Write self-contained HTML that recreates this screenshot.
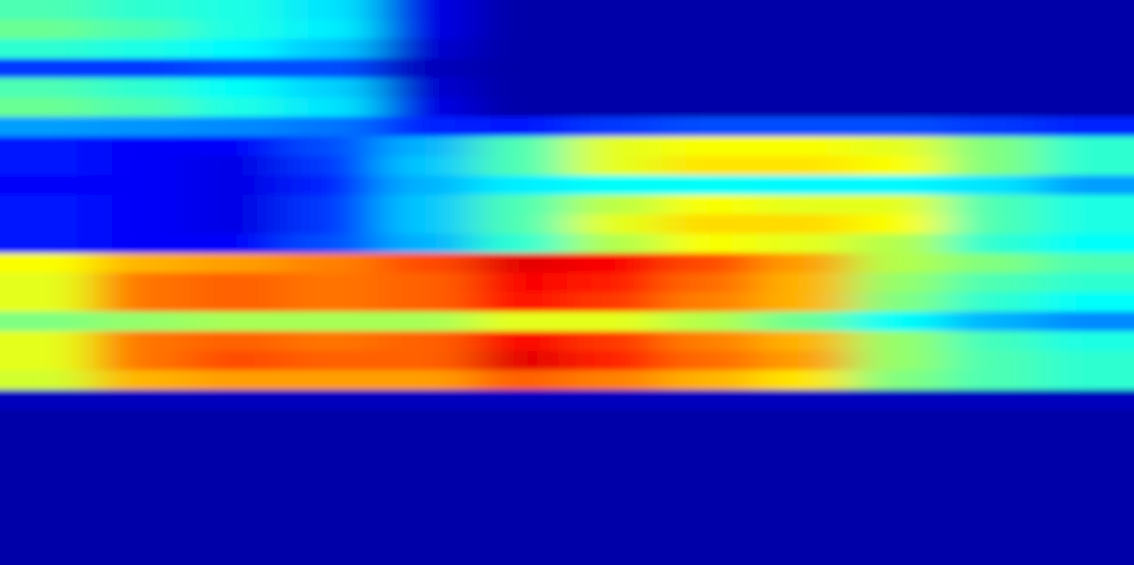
<!DOCTYPE html>
<html><head><meta charset="utf-8"><style>
html,body{margin:0;padding:0;background:#00008f;overflow:hidden;width:1134px;height:565px}
svg{display:block;overflow:hidden}
</style></head><body>
<svg id="chart" width="1134" height="565" viewBox="0 0 1134 565">
<defs><filter id="bl" x="-10%" y="-10%" width="120%" height="120%"><feGaussianBlur stdDeviation="26 3"/></filter></defs>
<rect x="0" y="0" width="1134" height="565" fill="#00008f"/>
<g id="cells" filter="url(#bl)"></g>
</svg>
<script>
const columns=[0,1,2,3,4,5,6,7,8,9,10,11];
const rowValues=[
[0.45,0.42,0.4,0.35,0.1,0.04,0.04,0.04,0.04,0.04,0.04,0.04],
[0.48,0.45,0.4,0.36,0.1,0.04,0.04,0.04,0.04,0.04,0.04,0.04],
[0.42,0.4,0.37,0.32,0.08,0.04,0.04,0.04,0.04,0.04,0.04,0.04],
[0.18,0.18,0.2,0.2,0.06,0.04,0.04,0.04,0.04,0.04,0.04,0.04],
[0.45,0.42,0.38,0.33,0.08,0.04,0.04,0.04,0.04,0.04,0.04,0.04],
[0.48,0.45,0.4,0.35,0.1,0.04,0.04,0.04,0.04,0.04,0.04,0.04],
[0.28,0.27,0.26,0.24,0.16,0.15,0.18,0.2,0.2,0.2,0.18,0.16],
[0.15,0.12,0.12,0.2,0.3,0.45,0.6,0.62,0.62,0.6,0.5,0.42],
[0.15,0.12,0.1,0.18,0.32,0.45,0.6,0.65,0.65,0.62,0.5,0.42],
[0.12,0.12,0.1,0.16,0.3,0.36,0.38,0.38,0.37,0.37,0.35,0.28],
[0.15,0.12,0.1,0.18,0.32,0.45,0.56,0.62,0.6,0.6,0.45,0.4],
[0.15,0.12,0.1,0.18,0.32,0.45,0.6,0.66,0.66,0.62,0.45,0.4],
[0.15,0.12,0.12,0.2,0.3,0.42,0.55,0.62,0.6,0.55,0.42,0.38],
[0.62,0.7,0.72,0.75,0.8,0.9,0.88,0.8,0.72,0.55,0.5,0.45],
[0.6,0.76,0.78,0.76,0.78,0.88,0.85,0.77,0.7,0.52,0.45,0.42],
[0.6,0.76,0.78,0.76,0.78,0.86,0.82,0.75,0.7,0.5,0.42,0.38],
[0.5,0.52,0.54,0.54,0.54,0.6,0.6,0.55,0.48,0.38,0.3,0.26],
[0.6,0.76,0.78,0.76,0.78,0.88,0.82,0.75,0.7,0.52,0.44,0.4],
[0.6,0.76,0.8,0.78,0.78,0.9,0.84,0.77,0.72,0.52,0.45,0.42],
[0.58,0.7,0.72,0.72,0.72,0.78,0.75,0.7,0.65,0.5,0.45,0.42],
[0.06,0.06,0.06,0.06,0.06,0.06,0.06,0.06,0.06,0.06,0.06,0.06],
[0.04,0.04,0.04,0.04,0.04,0.04,0.04,0.04,0.04,0.04,0.04,0.04],
[0.04,0.04,0.04,0.04,0.04,0.04,0.04,0.04,0.04,0.04,0.04,0.04],
[0.04,0.04,0.04,0.04,0.04,0.04,0.04,0.04,0.04,0.04,0.04,0.04],
[0.04,0.04,0.04,0.04,0.04,0.04,0.04,0.04,0.04,0.04,0.04,0.04],
[0.04,0.04,0.04,0.04,0.04,0.04,0.04,0.04,0.04,0.04,0.04,0.04],
[0.04,0.04,0.04,0.04,0.04,0.04,0.04,0.04,0.04,0.04,0.04,0.04],
[0.04,0.04,0.04,0.04,0.04,0.04,0.04,0.04,0.04,0.04,0.04,0.04],
[0.04,0.04,0.04,0.04,0.04,0.04,0.04,0.04,0.04,0.04,0.04,0.04]
];
const W=1134,H=565,PAD=120;
const colW=W/columns.length,rowH=H/rowValues.length;
function xScale(i){return i*colW;}
function yScale(j){return j*rowH;}
function jet(v){
  v=Math.max(0,Math.min(1,v));
  function c(t){return Math.max(0,Math.min(1,t));}
  const r=c(Math.min(4*v-1.5,-4*v+4.5));
  const g=c(Math.min(4*v-0.5,-4*v+3.5));
  const b=c(Math.min(4*v+0.5,-4*v+2.5));
  return 'rgb('+Math.round(r*255)+','+Math.round(g*255)+','+Math.round(b*255)+')';
}
const g=document.getElementById('cells');
const NS='http://www.w3.org/2000/svg';
rowValues.forEach((row,j)=>{
  row.forEach((v,i)=>{
    const el=document.createElementNS(NS,'rect');
    let x=xScale(i),w=colW;
    if(i===0){x-=PAD;w+=PAD;}
    if(i===columns.length-1){w+=PAD;}
    let y=yScale(j),h=rowH;
    if(j===0){y-=PAD;h+=PAD;}
    if(j===rowValues.length-1){h+=PAD;}
    el.setAttribute('x',x);el.setAttribute('y',y);
    el.setAttribute('width',w+0.5);el.setAttribute('height',h+0.5);
    el.setAttribute('fill',jet(v));
    
    
    g.appendChild(el);
  });
});
</script>
</body></html>
